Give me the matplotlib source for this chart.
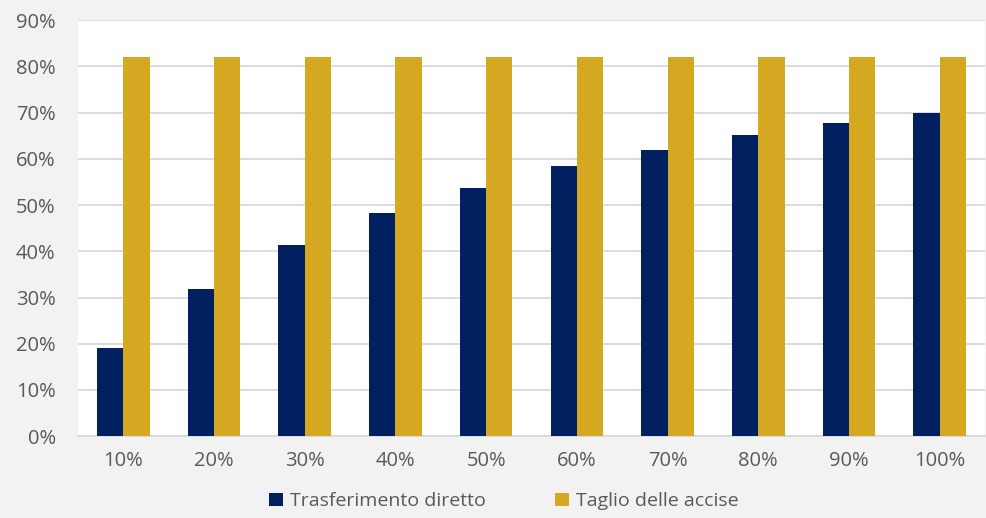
import matplotlib
matplotlib.use("Agg")
import matplotlib.pyplot as plt
import numpy as np
from matplotlib.ticker import PercentFormatter

categories = ["10%", "20%", "30%", "40%", "50%", "60%", "70%", "80%", "90%", "100%"]
trasferimento = [19.0, 31.8, 41.3, 48.3, 53.8, 58.4, 62.0, 65.1, 67.8, 70.0]
accise = [82.0, 82.0, 82.0, 82.0, 82.0, 82.0, 82.0, 82.0, 82.0, 82.0]
yticks = [0, 10, 20, 30, 40, 50, 60, 70, 80, 90]

plt.rcParams['font.family'] = ['Open Sans', 'DejaVu Sans']
text_col = "#595959"

fig = plt.figure(figsize=(9.86, 5.18), dpi=100, facecolor="#F2F2F2")
ax = fig.add_axes([0.079, 0.158, 0.92, 0.803])
ax.set_facecolor("white")

x = np.arange(len(categories))
w = 0.29
ax.bar(x - w/2, trasferimento, w, color="#002060", label="Trasferimento diretto", zorder=3)
ax.bar(x + w/2, accise, w, color="#D4A820", label="Taglio delle accise", zorder=3)

ax.set_xlim(-0.5, len(categories) - 0.5)
ax.set_ylim(0, 90)
ax.set_yticks(yticks)
ax.yaxis.set_major_formatter(PercentFormatter(decimals=0))
ax.set_xticks(x)
ax.set_xticklabels(categories)
ax.grid(axis="y", color="#D9D9D9", linewidth=1.3, zorder=0)
for s in ["top", "right", "left"]:
    ax.spines[s].set_visible(False)
ax.spines["bottom"].set_color("#D9D9D9")
ax.spines["bottom"].set_linewidth(1.3)
ax.tick_params(axis="both", length=0, labelsize=14.5, colors=text_col)
ax.tick_params(axis="x", pad=11)
ax.tick_params(axis="y", pad=16)

leg = fig.legend(loc="center", bbox_to_anchor=(0.511, 0.032), ncol=2, frameon=False,
                 fontsize=14, handlelength=0.7, handleheight=0.7, columnspacing=3.6,
                 handletextpad=0.35)
for t in leg.get_texts():
    t.set_color(text_col)

fig.savefig("out.png", dpi=100, facecolor=fig.get_facecolor())
